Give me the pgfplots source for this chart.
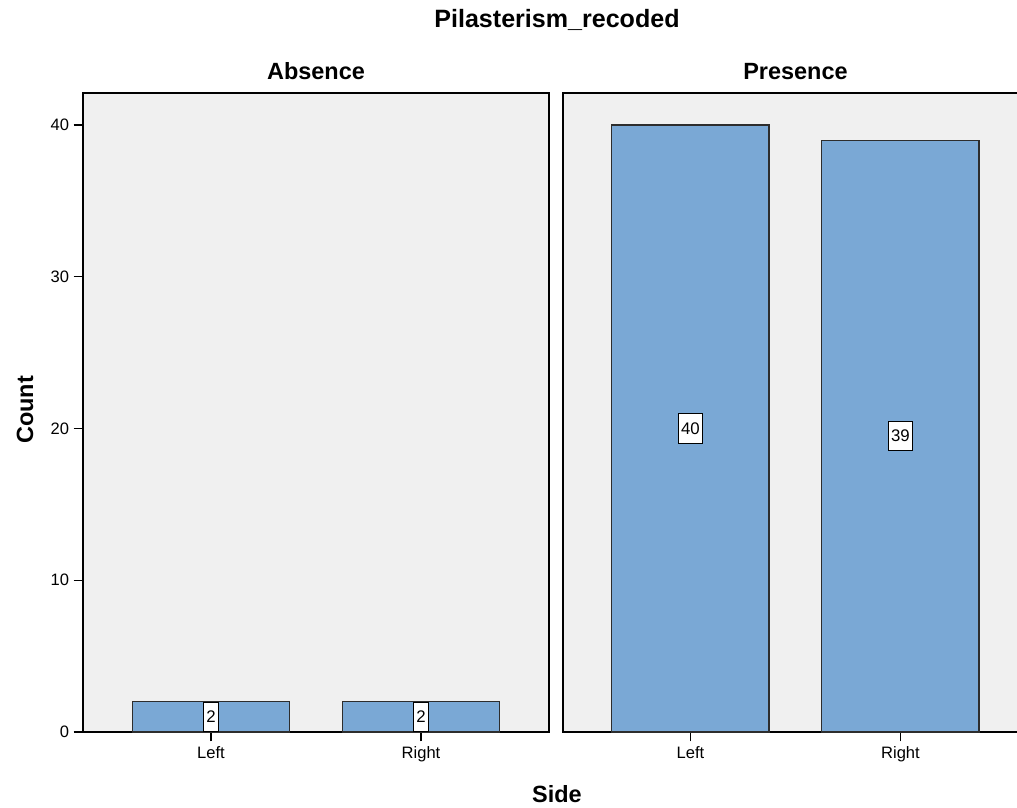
\documentclass[border=0pt]{standalone}
\usepackage{fontspec}
\setmainfont{Liberation Sans}
\usepackage{pgfplots}
\pgfplotsset{compat=1.18}
\usepackage{pgfplotstable}
\definecolor{barfill}{RGB}{122,168,213}
\definecolor{panelbg}{RGB}{240,240,240}
\definecolor{baredge}{RGB}{45,45,45}

\pgfplotstableread{
x y
0 2
1 2
}\absencetab
\pgfplotstableread{
x y
0 40
1 39
}\presencetab

\pgfplotsset{
  panel/.style={
    scale only axis,
    width=349.5pt, height=479.25pt,
    ymin=0, ymax=42.11,
    axis background/.style={fill=panelbg},
    axis line style={line width=1.1pt, black},
    xtick={0,1}, xticklabels={Left,Right},
    xtick pos=bottom, ytick pos=left,
    tick align=outside,
    major tick length=7pt,
    tick style={line width=0.9pt, black},
    ticklabel style={font=\fontsize{12.4}{14}\selectfont},
    /pgf/number format/assume math mode=true,
    clip=false,
  },
  barstyle/.style={ybar, bar width=0.748, bar shift=0pt, fill=barfill, draw=baredge, line width=0.8pt},
  labstyle/.style={
    draw=none, mark=none,
    nodes near coords,
    point meta=explicit,
    every node near coord/.style={
      anchor=center, draw=black, fill=white, line width=0.8pt,
      font=\fontsize{12.6}{14}\selectfont,
      inner xsep=2pt, inner ysep=0pt, minimum height=22pt,
      /pgf/number format/assume math mode=true},
  },
}

\begin{document}
\begin{tikzpicture}
\clip (0pt,0pt) rectangle (762.75pt,605.25pt);
\path[use as bounding box] (0pt,0pt) rectangle (762.75pt,605.25pt);

\begin{axis}[panel, at={(62.25pt,56.25pt)}, anchor=south west,
  xmin=-0.6095, xmax=1.6095,
  ytick={0,10,20,30,40}]
  \addplot[barstyle] table[x=x, y=y] {\absencetab};
  \addplot[labstyle] table[x=x, y expr=\thisrow{y}/2, meta=y] {\absencetab};
\end{axis}

\begin{axis}[panel, at={(422.25pt,56.25pt)}, anchor=south west,
  xmin=-0.607, xmax=1.612,
  ytick=\empty]
  \addplot[barstyle] table[x=x, y=y] {\presencetab};
  \addplot[labstyle] table[x=x, y expr=\thisrow{y}/2, meta=y] {\presencetab};
\end{axis}

\node[anchor=base, font=\bfseries\fontsize{18.8}{20}\selectfont] at (417.75pt,584.25pt) {Pilasterism\_recoded};
\node[anchor=base, font=\bfseries\fontsize{17.6}{19}\selectfont] at (237pt,545.25pt) {Absence};
\node[anchor=base, font=\bfseries\fontsize{17.6}{19}\selectfont] at (596.6pt,545.25pt) {Presence};
\node[anchor=base, font=\bfseries\fontsize{17.6}{19}\selectfont] at (417.75pt,3.75pt) {Side};
\node[anchor=base, rotate=90, font=\bfseries\fontsize{17.6}{19}\selectfont] at (24.75pt,297.75pt) {Count};
\end{tikzpicture}
\end{document}
